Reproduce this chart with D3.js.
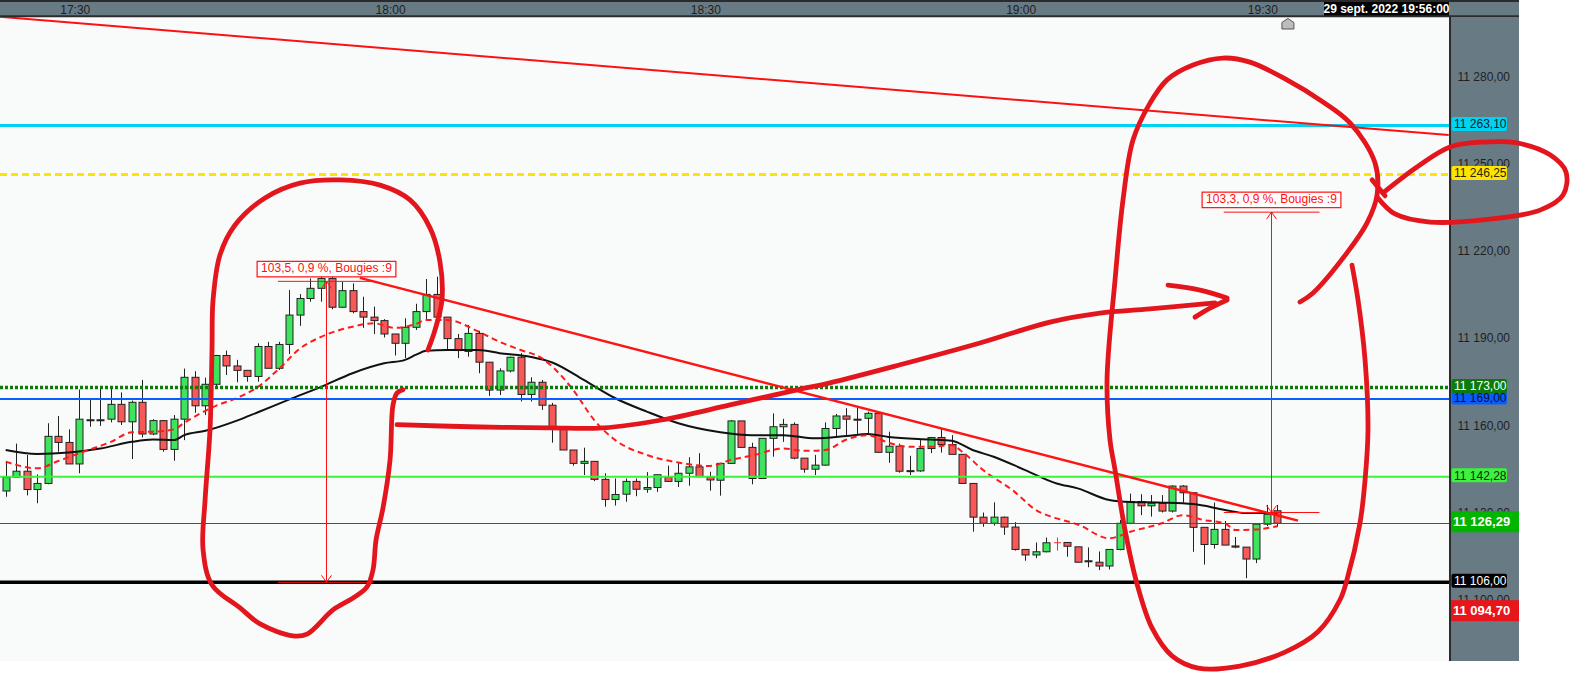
<!DOCTYPE html>
<html>
<head>
<meta charset="utf-8">
<script src="https://cdn.jsdelivr.net/npm/d3@7"></script>
<style>
  html, body { margin: 0; padding: 0; background: #fff; }
  svg { display: block; font-family: "Liberation Sans", Arial, sans-serif; }
</style>
</head>
<body>
<div id="chart"></div>
<script>
// 1-minute candles
const opens = [11137.4,11142.1,11144.2,11137.9,11140.0,11156.2,11154.1,11146.7,11161.8,11161.9,
  11162.1,11167.2,11161.2,11167.9,11157.0,11161.6,11151.7,11162.1,11176.5,11166.7,
  11174.1,11184.0,11180.4,11178.9,11176.8,11187.1,11179.6,11187.8,11197.9,11203.6,
  11207.1,11210.5,11200.6,11206.3,11199.1,11197.2,11196.0,11191.4,11188.2,11193.7,
  11199.1,11205.0,11197.2,11189.8,11185.4,11191.6,11181.7,11172.1,11178.7,11183.4,
  11170.6,11174.8,11166.9,11159.3,11151.5,11146.9,11147.6,11141.4,11134.5,11136.3,
  11140.7,11138.0,11138.6,11142.1,11140.7,11143.5,11145.7,11142.1,11141.1,11146.9,
  11161.5,11152.4,11141.7,11155.5,11159.5,11160.3,11148.7,11144.9,11146.3,11158.9,
  11163.2,11162.1,11162.4,11164.1,11150.7,11152.8,11144.4,11144.3,11152.0,11155.8,
  11153.4,11150.0,11140.0,11128.4,11126.3,11128.4,11125.0,11117.3,11115.4,11116.5,
  11119.6,11119.7,11118.2,11113.4,11112.9,11111.6,11117.3,11126.3,11133.8,11132.3,
  11133.2,11130.5,11139.1,11136.8,11124.9,11119.0,11124.2,11118.5,11118.1,11114.0,
  11126.0,11130.6];
const highs = [11147.5,11153.7,11149.8,11143.1,11160.7,11163.2,11158.6,11172.3,11168.7,11172.5,
  11172.5,11171.3,11168.5,11175.6,11162.1,11161.8,11163.5,11179.5,11178.6,11176.4,
  11184.2,11185.7,11182.5,11179.0,11188.2,11188.7,11188.7,11206.5,11205.1,11210.5,
  11213.4,11212.4,11209.4,11208.8,11204.2,11200.8,11196.5,11191.4,11196.8,11201.8,
  11210.3,11211.1,11197.2,11191.4,11194.5,11192.5,11181.7,11179.6,11183.6,11184.8,
  11176.5,11175.6,11167.7,11159.4,11151.5,11152.3,11147.6,11143.5,11141.7,11141.7,
  11141.7,11143.9,11143.0,11146.1,11147.3,11149.0,11150.4,11144.0,11146.9,11161.8,
  11161.5,11154.0,11155.5,11164.1,11162.2,11161.0,11148.7,11149.8,11161.0,11163.9,
  11165.9,11166.4,11164.7,11164.1,11157.8,11153.7,11149.5,11154.9,11156.0,11158.9,
  11156.6,11150.0,11140.0,11130.0,11133.5,11128.6,11126.7,11117.3,11119.7,11121.4,
  11121.4,11119.7,11118.2,11118.0,11116.6,11117.3,11127.4,11136.5,11136.3,11136.0,
  11136.0,11139.4,11139.4,11136.8,11124.9,11133.4,11127.1,11121.6,11118.1,11126.0,
  11132.6,11132.6];
const lows = [11135.4,11141.9,11135.9,11133.2,11139.7,11150.9,11146.7,11143.5,11159.5,11159.8,
  11161.0,11160.1,11148.4,11155.8,11156.6,11150.9,11147.8,11154.9,11164.3,11163.5,
  11173.5,11177.3,11174.8,11175.0,11175.0,11179.6,11179.0,11184.5,11194.2,11202.5,
  11202.5,11199.9,11200.3,11198.5,11193.5,11191.4,11190.2,11184.0,11183.1,11192.8,
  11196.2,11196.2,11185.7,11183.1,11183.6,11177.9,11170.1,11170.4,11178.2,11168.2,
  11168.2,11165.3,11154.0,11151.5,11146.1,11142.9,11140.8,11132.0,11132.4,11133.7,
  11135.6,11136.8,11137.1,11140.7,11138.8,11139.2,11142.3,11137.5,11135.8,11146.7,
  11152.4,11139.7,11141.5,11149.2,11154.3,11148.3,11143.7,11142.9,11146.1,11156.0,
  11156.6,11156.6,11157.2,11150.7,11147.1,11143.7,11142.9,11144.0,11150.4,11150.6,
  11150.0,11140.0,11123.4,11125.1,11125.5,11122.3,11116.9,11113.4,11114.3,11116.3,
  11116.9,11114.8,11112.9,11111.2,11110.2,11110.4,11117.0,11126.3,11129.1,11128.6,
  11130.0,11130.0,11133.4,11116.5,11112.1,11117.6,11118.8,11117.7,11107.4,11112.6,
  11125.3,11125.1];
const closes = [11142.1,11144.2,11137.9,11140.0,11156.2,11154.1,11146.7,11162.1,11161.9,11161.8,
  11167.2,11161.2,11167.9,11157.0,11161.6,11151.7,11162.1,11176.5,11166.7,11174.1,
  11184.0,11180.4,11178.9,11176.8,11187.1,11179.6,11187.8,11197.9,11203.6,11207.1,
  11210.5,11200.6,11206.3,11199.1,11197.2,11196.0,11191.4,11188.2,11193.7,11199.1,
  11205.0,11197.2,11189.8,11185.7,11191.6,11181.7,11172.1,11178.7,11183.4,11170.6,
  11174.8,11166.9,11159.3,11151.5,11146.9,11147.6,11141.4,11134.5,11136.2,11140.7,
  11138.0,11138.6,11143.0,11140.7,11143.5,11145.7,11142.3,11141.2,11146.9,11161.5,
  11152.4,11141.7,11155.5,11159.5,11160.3,11148.7,11144.9,11146.3,11158.9,11163.2,
  11162.1,11162.0,11164.1,11150.7,11152.8,11144.2,11144.3,11152.0,11155.8,11153.4,
  11150.0,11140.0,11128.4,11126.3,11128.4,11125.0,11117.3,11115.4,11116.5,11119.6,
  11119.6,11118.4,11112.9,11113.3,11111.6,11117.3,11126.3,11133.8,11132.3,11133.2,
  11130.5,11139.1,11136.8,11124.9,11119.0,11124.2,11118.8,11118.1,11114.0,11126.0,
  11129.4,11126.29];

// moving averages (candle index, value)
const maSlowIdx = [0,3,6,9,12,14,16,17,19,22,24,27,30,33,36,38,39,40,42,45,47,50,52,55,58,61,64,68,71,74,77,80,82,84,88,90,92,94,97,100,102,105,107,110,113,116,118,121];
const maSlowVal = [11151.5,11150.1,11150.6,11152.0,11154.3,11155.1,11154.9,11156.6,11158.1,11161.6,11164.5,11168.9,11173.2,11177.9,11181.3,11182.5,11184.2,11185.6,11185.9,11185.9,11184.8,11183.5,11181.6,11175.6,11169.3,11164.7,11160.7,11157.6,11156.6,11156.6,11155.5,11156.3,11157.0,11156.0,11155.1,11154.7,11151.5,11149.2,11144.6,11140.0,11138.3,11134.3,11133.6,11133.4,11132.9,11130.9,11129.8,11129.8];
const maFastIdx = [0,3,5,7,10,12,14,16,17,20,22,24,26,28,30,33,35,37,39,40,42,45,47,49,51,52,54,56,58,61,64,67,69,71,74,76,78,80,82,84,86,88,90,91,93,96,98,100,102,105,107,110,112,114,116,117,119,121];
const maFastVal = [11147.5,11145.2,11147.7,11150.4,11154.3,11157.6,11157.8,11158.6,11160.9,11166.7,11169.4,11173.2,11179.4,11186.4,11190.4,11193.9,11195.1,11193.5,11194.8,11196.2,11196.2,11192.2,11188.7,11185.9,11183.1,11180.2,11172.1,11161.8,11154.9,11149.8,11147.2,11146.0,11148.1,11149.6,11152.0,11151.2,11151.5,11155.1,11156.6,11154.0,11152.6,11152.6,11153.2,11150.9,11144.6,11137.1,11130.9,11128.0,11125.9,11121.1,11123.4,11126.3,11129.1,11127.4,11126.3,11124.0,11124.2,11125.3];

// horizontal levels
const levelValues = [11263.10, 11246.25, 11169.00, 11173.00, 11142.28, 11106.00];
const levelStroke = ['#00d2f2', '#ffe400', '#0a5cff', '#0b7c0b', '#3cf23c', '#000000'];
const levelWidth  = [3, 3, 2, 3.5, 2, 3.5];
const levelDash   = [null, '7,4', null, '3,2', null, null];
const levelText   = ['#08202a', '#2a2400', '#06123a', '#ffffff', '#0a2a0a', '#ffffff'];
const lastPrice = 11126.29;
const sessionLow = 11094.70;

const priceTicks = [11100, 11130, 11160, 11190, 11220, 11250, 11280];
const timeIdx = [7, 37, 67, 97, 120];
const timeText = ['17:30', '18:00', '18:30', '19:00', '19:30'];
const dateText = '29 sept. 2022 19:56:00';

// trend lines (candle index, price)
const trendLong = [[-0.54, 11300.5], [137.3, 11259.8]];
const trendDown = [[33.7, 11210.7], [122.96, 11127.2]];

// range measurements
const measureLow  = [11106.0, 11130.0];
const measureHigh = [11209.5, 11233.3];
const measureAt   = [30.5, 120.4];
const measureFrom = [25.9, 115.9];
const measureTo   = [35.0, 125.0];
const measureText = ['103,5, 0,9 %, Bougies :9', '103,3, 0,9 %, Bougies :9'];

// freehand marks (candle index, price)
const inkLeft = [[40.18,11185.9],[40.85,11192.8],[41.51,11203.1],[41.32,11216.2],[40.37,11227.9],[38.47,11237.5],[35.62,11242.6],[31.81,11244.4],[28.0,11243.3],[24.67,11238.2],[21.82,11228.9],[20.39,11218.6],[19.73,11203.1],[19.63,11185.9],[19.44,11158.4],[18.97,11134.3],[18.78,11117.2],[19.63,11105.1],[22.30,11097.2],[24.20,11091.7],[27.34,11087.6],[28.67,11088.2],[31.14,11096.5],[33.05,11100.6],[34.38,11104.4],[34.95,11110.3],[35.24,11120.6],[35.90,11131.6],[36.57,11148.1],[36.85,11167.0],[37.23,11171.1],[37.80,11172.2]];
const inkCurve = [[37.23,11160.2],[44.18,11159.5],[51.79,11159.1],[56.83,11159.1],[62.54,11161.9],[68.92,11167.0],[75.29,11172.2],[78.43,11174.6],[85.09,11180.8],[92.70,11188.3],[99.36,11195.5],[104.12,11198.6],[108.88,11200.0],[115.06,11202.1]];
const inkHeadUp = [[110.59,11208.2],[113.64,11206.5],[116.21,11203.8]];
const inkHeadDown = [[116.21,11203.1],[114.59,11200.3],[113.16,11197.2]];
const inkRight = [[123.15,11202.4],[124.39,11205.5],[127.62,11219.3],[129.53,11229.6],[130.48,11239.2],[130.29,11250.2],[127.91,11264.0],[125.05,11271.9],[121.91,11278.8],[118.39,11284.9],[115.83,11286.3],[112.97,11283.9],[110.50,11278.8],[108.88,11270.8],[107.26,11258.1],[106.31,11237.5],[105.55,11209.9],[104.79,11175.6],[105.07,11155.0],[105.55,11144.7],[106.50,11124.0],[107.64,11105.5],[109.07,11090.3],[110.97,11080.7],[113.45,11076.5],[117.44,11077.2],[121.72,11082.0],[124.86,11089.0],[126.96,11100.0],[127.62,11106.9],[128.86,11126.4],[129.34,11141.2],[129.62,11158.4],[129.34,11182.5],[128.67,11203.1],[128.10,11215.1]];
const inkHook = [[130.01,11244.4],[131.24,11238.9]];
const inkLoop = [[131.05,11239.9],[134.28,11248.8],[137.42,11255.7],[140.56,11257.4],[143.80,11257.1],[146.94,11253.0],[148.46,11247.1],[148.18,11239.2],[145.99,11234.0],[141.23,11230.9],[135.52,11229.9],[132.19,11232.7],[130.57,11238.2]];

const W = 1576, H = 675;
const plotRight = 1450, plotTop = 17, plotBottom = 661, panelRight = 1519;
const panelGrey = '#687b84', dark = '#2b2b2b';
const upColor = '#3fe45e', downColor = '#f95858';

const fmt = d3.formatLocale({decimal: ',', thousands: ' ', grouping: [3], currency: ['', '']}).format(',.2f');

const x = d3.scaleLinear().domain([0, closes.length - 1]).range([5.7, 1277.4]);
const y = d3.scaleLinear().domain([11106, 11263.1]).range([582.3, 125.5]);

const svg = d3.select('#chart').append('svg').attr('width', W).attr('height', H);
svg.append('rect').attr('width', W).attr('height', H).attr('fill', '#fff');
svg.append('rect').attr('x', 0).attr('y', plotTop).attr('width', plotRight).attr('height', plotBottom - plotTop).attr('fill', '#f9fbfb');

svg.append('defs').append('clipPath').attr('id', 'plot')
  .append('rect').attr('x', 0).attr('y', plotTop).attr('width', plotRight).attr('height', plotBottom - plotTop);

const plot = svg.append('g').attr('clip-path', 'url(#plot)');

// candles
const candles = d3.range(closes.length);
const cg = plot.append('g');
cg.selectAll('line.wick').data(candles).enter().append('line')
  .attr('x1', i => Math.round(x(i)) + 0.5).attr('x2', i => Math.round(x(i)) + 0.5)
  .attr('y1', i => y(highs[i])).attr('y2', i => y(lows[i]))
  .attr('stroke', i => opens[i] === closes[i] ? '#ff2a2a' : '#222').attr('stroke-width', 1);
cg.selectAll('rect.body').data(candles.filter(i => opens[i] !== closes[i])).enter().append('rect')
  .attr('x', i => Math.round(x(i)) - 3)
  .attr('y', i => y(Math.max(opens[i], closes[i])))
  .attr('width', 7)
  .attr('height', i => Math.max(1, Math.abs(y(opens[i]) - y(closes[i]))))
  .attr('fill', i => closes[i] > opens[i] ? upColor : downColor)
  .attr('stroke', '#222').attr('stroke-width', 1);
cg.selectAll('line.cross').data(candles.filter(i => opens[i] === closes[i])).enter().append('line')
  .attr('x1', i => Math.round(x(i)) - 3).attr('x2', i => Math.round(x(i)) + 4)
  .attr('y1', i => y(opens[i])).attr('y2', i => y(opens[i]))
  .attr('stroke', '#ff2a2a').attr('stroke-width', 1);

// moving averages
const maLine = d3.line().x(d => x(d[0])).y(d => y(d[1])).curve(d3.curveMonotoneX);
plot.append('path').datum(maSlowIdx.map((d, k) => [d, maSlowVal[k]]))
  .attr('d', maLine).attr('fill', 'none').attr('stroke', '#111').attr('stroke-width', 2);
plot.append('path').datum(maFastIdx.map((d, k) => [d, maFastVal[k]]))
  .attr('d', maLine).attr('fill', 'none').attr('stroke', '#ff1a1a').attr('stroke-width', 2)
  .attr('stroke-dasharray', '6,4');

// horizontal levels
levelValues.forEach((v, k) => {
  plot.append('line').attr('x1', 0).attr('x2', plotRight)
    .attr('y1', y(v)).attr('y2', y(v))
    .attr('stroke', levelStroke[k]).attr('stroke-width', levelWidth[k])
    .attr('stroke-dasharray', levelDash[k]);
});
plot.append('line').attr('x1', 0).attr('x2', plotRight)
  .attr('y1', Math.round(y(lastPrice)) + 0.5).attr('y2', Math.round(y(lastPrice)) + 0.5)
  .attr('stroke', '#e01010').attr('stroke-width', 1);

// trend lines
const straight = d3.line().x(d => x(d[0])).y(d => y(d[1]));
plot.append('path').datum(trendLong).attr('d', straight).attr('fill', 'none')
  .attr('stroke', '#ff1010').attr('stroke-width', 2);
plot.append('path').datum(trendDown).attr('d', straight).attr('fill', 'none')
  .attr('stroke', '#ff1414').attr('stroke-width', 2.5);

// range measurements
measureLow.forEach((lo, k) => {
  const g = plot.append('g').attr('stroke', '#ff1010').attr('fill', 'none').attr('stroke-width', 1);
  const xv = Math.round(x(measureAt[k])) + 0.5;
  const yt = y(measureHigh[k]), yb = y(lo);
  g.append('line').attr('x1', x(measureFrom[k])).attr('x2', x(measureTo[k])).attr('y1', yt).attr('y2', yt);
  g.append('line').attr('x1', x(measureFrom[k])).attr('x2', x(measureTo[k])).attr('y1', yb).attr('y2', yb);
  g.append('line').attr('x1', xv).attr('x2', xv).attr('y1', yt).attr('y2', yb);
  g.append('polyline').attr('points', `${xv - 5},${yt + 7} ${xv},${yt} ${xv + 5},${yt + 7}`);
  g.append('polyline').attr('points', `${xv - 5},${yb - 7} ${xv},${yb} ${xv + 5},${yb - 7}`);
  const t = plot.append('text').attr('x', xv).attr('y', yt - 9)
    .attr('text-anchor', 'middle').attr('font-size', 12).attr('fill', '#ff1010')
    .text(measureText[k]);
  const tw = t.node().getComputedTextLength();
  plot.insert('rect', () => t.node())
    .attr('x', xv - tw / 2 - 4).attr('y', yt - 20)
    .attr('width', tw + 8).attr('height', 15.5)
    .attr('fill', '#fff').attr('stroke', '#ff1010').attr('stroke-width', 1.2);
});

// top time bar
svg.append('rect').attr('x', 0).attr('y', 0).attr('width', panelRight).attr('height', plotTop).attr('fill', panelGrey);
svg.append('line').attr('x1', 0).attr('x2', panelRight).attr('y1', 1).attr('y2', 1).attr('stroke', dark).attr('stroke-width', 2);
svg.append('line').attr('x1', 0).attr('x2', panelRight).attr('y1', 16.3).attr('y2', 16.3).attr('stroke', dark).attr('stroke-width', 2);
svg.append('g').selectAll('text').data(timeIdx).enter().append('text')
  .attr('x', i => x(i) - 4).attr('y', 13.5).attr('text-anchor', 'middle')
  .attr('font-size', 12).attr('fill', '#1e1e1e')
  .text((d, k) => timeText[k]);
svg.append('rect').attr('x', 1324).attr('y', 2).attr('width', 125).attr('height', 13.5).attr('fill', '#000');
svg.append('text').attr('x', 1386.5).attr('y', 13.3).attr('text-anchor', 'middle')
  .attr('font-size', 12).attr('font-weight', 'bold').attr('fill', '#fff').text(dateText);

// next-bar marker
const mx = x(closes.length);
svg.append('polygon')
  .attr('points', `${mx - 6},29 ${mx - 6},22.5 ${mx},18.5 ${mx + 6},22.5 ${mx + 6},29`)
  .attr('fill', '#bdbdbd').attr('stroke', '#555').attr('stroke-width', 1);

// price panel
svg.append('rect').attr('x', plotRight).attr('y', plotTop).attr('width', panelRight - plotRight)
  .attr('height', plotBottom - plotTop).attr('fill', panelGrey);
svg.append('line').attr('x1', plotRight).attr('x2', plotRight).attr('y1', plotTop).attr('y2', plotBottom)
  .attr('stroke', dark).attr('stroke-width', 2);

const yAxis = svg.append('g').attr('transform', 'translate(1457.5,0)')
  .call(d3.axisRight(y).tickValues(priceTicks).tickFormat(fmt).tickSize(0).tickPadding(0));
yAxis.select('.domain').remove();
yAxis.selectAll('text').attr('font-size', 12).attr('fill', '#1f1f1f')
  .attr('font-family', '"Liberation Sans", Arial, sans-serif');

levelValues.forEach((v, k) => {
  const cy = y(v) - 1.5;
  svg.append('rect').attr('x', 1451.5).attr('y', cy - 7).attr('width', 55.5).attr('height', 14)
    .attr('rx', 2).attr('fill', levelStroke[k]);
  svg.append('text').attr('x', 1454).attr('y', cy + 4.3).attr('font-size', 12)
    .attr('fill', levelText[k]).text(fmt(v));
});

[[lastPrice, '#00b400', -1.5], [sessionLow, '#e8161c', -4.5]].forEach(([v, c, shift]) => {
  const cy = y(v) + shift;
  svg.append('rect').attr('x', plotRight + 1).attr('y', cy - 10.5).attr('width', panelRight - plotRight - 1)
    .attr('height', 21).attr('fill', c);
  svg.append('text').attr('x', 1453).attr('y', cy + 4.6).attr('font-size', 13).attr('font-weight', 'bold')
    .attr('fill', '#fff').text(fmt(v));
});

// freehand marks on top of everything
const ink = d3.line().x(d => x(d[0])).y(d => y(d[1])).curve(d3.curveCatmullRom.alpha(0.5));
const inkG = svg.append('g').attr('fill', 'none').attr('stroke', '#e3161e')
  .attr('stroke-width', 4.8).attr('stroke-linecap', 'round').attr('stroke-linejoin', 'round');
[inkLeft, inkCurve, inkHeadUp, inkHeadDown, inkRight, inkHook, inkLoop].forEach(pts => {
  inkG.append('path').datum(pts).attr('d', ink);
});
</script>
</body>
</html>
